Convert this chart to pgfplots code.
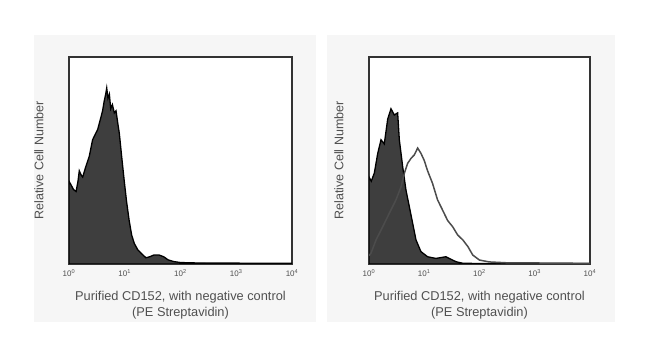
\documentclass[border=0pt]{standalone}
\usepackage{pgfplots}
\pgfplotsset{compat=1.18}
\usepackage{fontspec}
\setmainfont{Liberation Sans}
\definecolor{panelbg}{HTML}{F6F6F6}
\definecolor{txt}{HTML}{505050}
\definecolor{fillgray}{HTML}{3E3E3E}
\pgfplotsset{
  facs/.style={
    scale only axis, height=207bp,
    xmin=1, xmax=10000, ymin=0, ymax=100,
    ytick=\empty,
    xtick={1,10,100,1000,10000},
    xticklabels={10\textsuperscript{0},10\textsuperscript{1},10\textsuperscript{2},10\textsuperscript{3},10\textsuperscript{4}},
    major tick length=0pt, minor tick length=0pt,
    axis line style={black!80, line width=1.1bp},
    axis background/.style={fill=white},
    xticklabel style={font=\fontsize{8bp}{9bp}\selectfont, text=txt, yshift=-2.5bp},
    xlabel={Purified CD152, with negative control\\(PE Streptavidin)},
    xlabel style={align=center, font=\fontsize{12.8bp}{16.5bp}\selectfont, text=txt,
      at={(axis description cs:0.5,0)}, anchor=north, yshift=-27bp, inner sep=0pt},
    ylabel={Relative Cell Number},
    ylabel style={font=\fontsize{12.5bp}{14bp}\selectfont, text=txt,
      at={(axis description cs:0,0.5)}, anchor=center, yshift=30bp, inner sep=0pt},
  }
}
\begin{document}
\begin{tikzpicture}
\path[fill=white] (0bp,0bp) rectangle (650bp,357bp);
\fill[panelbg] (34bp,35bp) rectangle (316bp,322bp);
\fill[panelbg] (327bp,35bp) rectangle (615bp,322bp);
\begin{axis}[xmode=log, facs, width=223bp, at={(69bp,93bp)}, anchor=south west]
\addplot[fill=fillgray, draw=black, line width=1.3bp] coordinates {
(1,40) (1.1,38) (1.2,36) (1.34,35) (1.45,40) (1.53,45) (1.65,43) (1.76,42)
(2.0,47) (2.31,52) (2.65,60) (3.0,63) (3.27,65) (3.5,68) (3.75,71) (4.0,74)
(4.3,79) (4.55,82) (4.75,85) (5.0,80) (5.3,82) (5.6,75) (6.0,77) (6.5,73)
(6.97,74) (7.5,68) (8.0,63) (8.8,52) (9.8,40) (10.8,30) (12,21) (13.3,14)
(14.8,10) (17,7) (20,5) (24,3) (28,3.5) (33,4.3) (41.7,4.3) (50,3.5) (60,2)
(75,1.2) (100,0.7) (200,0.5) (10000,0.3)
} \closedcycle;
\end{axis}
\begin{axis}[xmode=log, facs, width=221bp, at={(369bp,93bp)}, anchor=south west]
\addplot[fill=fillgray, draw=black, line width=1.3bp] coordinates {
(1,42) (1.1,40) (1.25,44) (1.44,53.5) (1.65,60) (1.89,58) (2.18,70) (2.5,75)
(2.87,72) (3.3,73) (3.54,60) (4.07,47) (4.67,35.7) (5.37,27.7) (6.17,19.7)
(7.1,11.6) (8.7,6) (11.5,3.5) (16.3,2.7) (24.6,3.5) (37.6,1.1) (49,0.4)
(100,0.2) (10000,0.2)
} \closedcycle;
\addplot[draw=black!70, line width=1.5bp] coordinates {
(1,4) (1.09,5.3) (1.34,11.6) (1.77,18) (2.33,24.5) (3.08,31) (3.8,37.3)
(4.36,43.8) (5.0,48.6) (5.75,51) (6.6,52.7) (7.6,56) (8.7,53.5) (10,50)
(11.5,45) (14.1,39) (17.4,31) (21.5,26) (26.5,21) (32.7,18) (40.3,14)
(50,11.6) (61.7,8.4) (75.6,4.3) (100,1.9) (150,1) (300,0.6) (1000,0.5) (10000,0.3)
};
\end{axis}
\end{tikzpicture}
\end{document}
